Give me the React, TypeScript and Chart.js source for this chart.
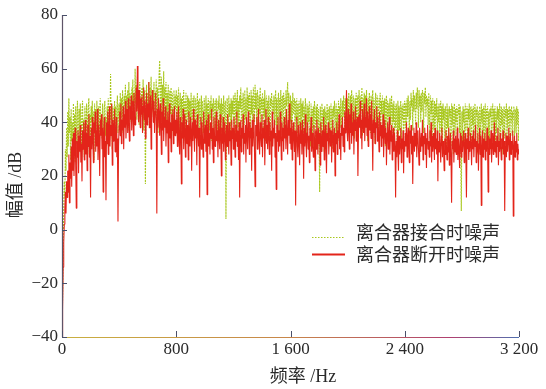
import React, { useEffect, useRef } from 'react';
import { Chart, registerables } from 'chart.js';

Chart.register(...registerables);

// Frequency grid: one sample every 4 Hz, 0 … 3200 Hz
const FREQ_STEP_HZ = 4;

// 离合器断开时噪声 (red, solid) — dB values, 400 Hz per block
const disengaged0 = [
  -40, -30, -14, -5, 2, 8, 14, 6, 18, 12, 22, 14, 28, 10, 25, 19, 31, 16, 34, 22,
  36, 20, 30, 38, 24, 8, 33, 27, 37, 21, 35, 29, 39, 25, 32, 18, 37, 30, 40, 26,
  34, 41, 28, 36, 22, 39, 31, 43, 27, 35, 12, 38, 30, 42, 33, 25, 40, 36, 44, 29,
  37, 31, 45, 26, 39, 34, 20, 41, 35, 43, 30, 38, 14, 36, 42, 27, 33, 11, 40, 32,
  44, 28, 37, 46, 31, 39, 35, 47, 24, 41, 33, 38, 45, 29, 36, 42, 27, 34, 3, 31,
];
const disengaged400 = [
  39, 44, 35, 47, 32, 41, 37, 46, 30, 43, 38, 48, 34, 42, 45, 36, 49, 40, 33, 46,
  41, 50, 37, 44, 48, 35, 51, 42, 39, 47, 53, 44, 61, 47, 40, 52, 45, 38, 49, 43,
  50, 36, 46, 53, 41, 48, 34, 44, 51, 39, 47, 42, 55, 38, 45, 50, 30, 43, 52, 46,
  40, 48, 36, 44, 51, 41, 6, 45, 38, 49, 43, 35, 47, 40, 28, 44, 37, 49, 33, 42,
  38, 46, 31, 41, 36, 44, 25, 39, 47, 34, 40, 29, 43, 37, 45, 32, 38, 46, 35, 41,
];
const disengaged800 = [
  36, 44, 31, 39, 46, 33, 28, 42, 37, 17, 40, 34, 45, 30, 38, 43, 27, 36, 41, 32,
  39, 26, 44, 35, 31, 42, 37, 22, 40, 33, 45, 36, 29, 41, 34, 39, 24, 43, 37, 31,
  38, 12, 35, 42, 30, 40, 34, 27, 44, 36, 32, 39, 29, 41, 13, 37, 43, 31, 36, 28,
  40, 34, 45, 30, 38, 25, 42, 35, 31, 39, 44, 33, 37, 27, 41, 35, 30, 43, 36, 20,
  38, 32, 42, 29, 36, 40, 26, 34, 39, 31, 43, 35, 28, 40, 33, 37, 24, 41, 34, 38,
];
const disengaged1200 = [
  30, 42, 36, 27, 39, 33, 44, 31, 37, 26, 40, 12, 35, 41, 29, 38, 34, 43, 28, 36,
  32, 39, 25, 42, 35, 30, 44, 37, 28, 40, 34, 38, 22, 41, 31, 36, 43, 29, 16, 39,
  35, 42, 30, 37, 45, 33, 28, 40, 36, 31, 43, 27, 38, 34, 41, 24, 36, 45, 32, 39,
  30, 42, 35, 28, 40, 33, 37, 22, 44, 31, 38, 34, 41, 27, 36, 15, 39, 33, 42, 29,
  37, 31, 44, 35, 26, 40, 33, 38, 29, 42, 34, 39, 30, 45, 36, 28, 41, 35, 47, 32,
];
const disengaged1600 = [
  38, 30, 41, 26, 35, 40, 33, 29, 37, 9, 36, 42, 31, 27, 39, 34, 24, 40, 32, 37,
  28, 41, 35, 19, 38, 31, 43, 33, 27, 36, 40, 30, 35, 25, 38, 33, 42, 29, 36, 31,
  27, 39, 34, 22, 37, 30, 41, 35, 28, 38, 32, 36, 24, 40, 33, 29, 37, 31, 42, 26,
  35, 39, 30, 21, 36, 33, 40, 28, 34, 38, 31, 37, 25, 35, 41, 29, 33, 38, 20, 36,
  32, 40, 28, 37, 34, 43, 30, 36, 26, 39, 35, 42, 31, 38, 29, 44, 36, 40, 52, 37,
];
const disengaged2000 = [
  33, 45, 38, 30, 43, 36, 47, 32, 40, 35, 44, 28, 41, 37, 46, 33, 39, 42, 20, 36,
  43, 38, 48, 34, 41, 30, 45, 39, 36, 47, 33, 42, 38, 49, 35, 44, 31, 40, 46, 37,
  43, 34, 48, 39, 22, 41, 36, 45, 32, 40, 38, 46, 33, 42, 37, 29, 44, 35, 40, 31,
  39, 34, 43, 27, 37, 41, 32, 38, 24, 36, 40, 30, 35, 42, 28, 37, 33, 39, 26, 34,
  38, 29, 36, 31, 12, 33, 27, 37, 30, 22, 35, 28, 32, 38, 25, 34, 30, 37, 21, 33,
];
const disengaged2400 = [
  29, 36, 31, 40, 27, 34, 38, 30, 25, 37, 32, 39, 28, 35, 17, 33, 38, 29, 36, 31,
  40, 27, 34, 37, 30, 24, 38, 33, 29, 36, 31, 41, 26, 35, 32, 38, 28, 36, 23, 34,
  39, 30, 33, 27, 37, 31, 40, 25, 35, 29, 36, 32, 26, 38, 30, 34, 28, 37, 18, 33,
  29, 36, 31, 25, 35, 38, 27, 33, 30, 22, 34, 28, 37, 31, 26, 35, 29, 38, 24, 32,
  36, 27, 10, 33, 30, 37, 25, 34, 29, 35, 28, 32, 38, 26, 34, 30, 23, 36, 31, 27,
];
const disengaged2800 = [
  35, 29, 33, 37, 25, 31, 36, 28, 12, 34, 30, 38, 26, 33, 29, 36, 32, 24, 35, 30,
  37, 27, 34, 31, 39, 25, 33, 29, 36, 22, 32, 38, 28, 35, 9, 31, 37, 27, 34, 30,
  36, 26, 33, 29, 38, 31, 14, 35, 28, 34, 30, 37, 25, 32, 36, 28, 34, 40, 29, 33,
  27, 35, 31, 38, 24, 33, 29, 36, 31, 26, 34, 30, 37, 28, 33, 7, 31, 36, 27, 35,
  29, 34, 38, 26, 32, 36, 28, 33, 30, 37, 5, 31, 35, 27, 33, 29, 36, 26, 32, 28, 30,
];

// 离合器接合时噪声 (green, dotted)
const engaged0 = [
  -40, -25, -6, 6, 18, 12, 30, 22, 38, 27, 44, 31, 49, 36, 42, 26, 45, 33, 40, 29,
  47, 35, 43, 25, 46, 38, 32, 48, 40, 28, 45, 34, 47, 37, 30, 44, 48, 33, 41, 27,
  46, 39, 31, 47, 42, 28, 45, 49, 35, 43, 30, 46, 40, 48, 33, 44, 26, 47, 38, 45,
  32, 48, 42, 36, 46, 29, 44, 49, 37, 43, 34, 47, 40, 28, 45, 48, 35, 42, 31, 46,
  39, 49, 33, 45, 37, 58, 41, 47, 30, 46, 43, 35, 48, 38, 46, 32, 45, 50, 36, 44,
];
const engaged400 = [
  47, 38, 51, 42, 49, 36, 52, 44, 40, 50, 46, 54, 39, 50, 43, 52, 37, 55, 45, 51,
  48, 40, 53, 46, 56, 38, 51, 43, 60, 47, 54, 41, 57, 45, 52, 39, 55, 48, 42, 50,
  53, 44, 56, 37, 50, 52, 17, 46, 54, 40, 51, 45, 55, 38, 53, 47, 57, 42, 49, 52,
  44, 55, 39, 51, 48, 56, 41, 53, 36, 50, 58, 63, 49, 43, 57, 40, 54, 47, 59, 42,
  53, 46, 55, 38, 51, 44, 54, 36, 50, 52, 43, 53, 40, 51, 47, 35, 52, 42, 50, 45,
];
const engaged800 = [
  52, 39, 50, 43, 53, 36, 47, 51, 41, 49, 34, 50, 44, 52, 38, 48, 33, 51, 45, 40,
  50, 42, 49, 32, 48, 37, 51, 40, 46, 49, 36, 50, 43, 35, 49, 45, 38, 51, 41, 48,
  33, 49, 44, 39, 50, 31, 48, 42, 36, 49, 45, 34, 50, 40, 47, 30, 49, 43, 37, 48,
  41, 50, 33, 47, 44, 49, 35, 46, 48, 38, 49, 42, 36, 48, 45, 50, 32, 47, 40, 49,
  35, 47, 43, 50, 37, 46, 48, 4, 41, 49, 44, 34, 50, 42, 47, 36, 49, 39, 48, 43,
];
const engaged1200 = [
  50, 37, 47, 51, 35, 49, 42, 52, 38, 48, 33, 50, 45, 53, 40, 49, 34, 51, 46, 39,
  52, 41, 49, 36, 53, 44, 50, 37, 51, 47, 38, 52, 43, 50, 35, 53, 46, 40, 54, 45,
  51, 39, 52, 47, 34, 50, 43, 53, 37, 49, 45, 51, 36, 49, 42, 52, 33, 48, 50, 40,
  48, 35, 50, 44, 31, 49, 46, 51, 38, 48, 43, 50, 36, 48, 52, 39, 49, 34, 47, 51,
  37, 49, 44, 52, 40, 48, 50, 35, 51, 45, 49, 38, 52, 46, 50, 55, 41, 51, 47, 36,
];
const engaged1600 = [
  50, 40, 48, 35, 51, 43, 47, 49, 33, 48, 41, 49, 36, 47, 31, 48, 44, 38, 49, 34,
  47, 42, 48, 32, 46, 39, 49, 43, 30, 47, 37, 46, 40, 48, 35, 31, 47, 41, 45, 33,
  46, 38, 48, 42, 30, 46, 40, 47, 34, 45, 39, 14, 46, 41, 33, 47, 43, 36, 45, 29,
  46, 38, 44, 32, 47, 41, 45, 35, 46, 31, 44, 47, 37, 45, 30, 46, 42, 48, 34, 44,
  47, 36, 45, 33, 48, 43, 46, 38, 49, 44, 35, 48, 42, 50, 45, 37, 49, 43, 47, 39,
];
const engaged2000 = [
  49, 41, 51, 46, 36, 50, 43, 52, 47, 38, 50, 45, 34, 49, 42, 51, 37, 48, 50, 40,
  52, 47, 38, 50, 44, 53, 35, 49, 41, 51, 46, 50, 39, 52, 47, 33, 49, 43, 51, 45,
  36, 50, 42, 48, 52, 38, 49, 46, 32, 51, 47, 40, 50, 44, 35, 49, 45, 51, 37, 48,
  43, 50, 34, 48, 41, 49, 31, 47, 50, 38, 48, 42, 47, 33, 49, 39, 46, 50, 36, 47,
  40, 48, 31, 46, 38, 47, 43, 29, 48, 35, 46, 37, 45, 48, 30, 46, 41, 47, 34, 45,
];
const engaged2400 = [
  48, 38, 47, 33, 49, 42, 50, 45, 36, 48, 41, 51, 46, 49, 37, 52, 44, 50, 47, 39,
  51, 45, 53, 48, 38, 52, 46, 50, 40, 51, 44, 52, 49, 36, 51, 47, 53, 42, 50, 46,
  49, 39, 51, 45, 34, 50, 43, 48, 31, 49, 44, 37, 48, 32, 47, 42, 49, 35, 46, 40,
  47, 33, 45, 48, 36, 46, 30, 47, 41, 45, 34, 46, 43, 29, 47, 38, 45, 33, 46, 42,
  45, 31, 47, 39, 46, 28, 44, 47, 35, 45, 40, 46, 32, 45, 43, 47, 36, 46, 30, 7,
];
const engaged2800 = [
  44, 33, 46, 40, 45, 29, 47, 37, 44, 46, 32, 45, 41, 47, 35, 44, 46, 30, 45, 39,
  46, 34, 44, 47, 31, 45, 42, 46, 28, 44, 38, 46, 43, 33, 47, 40, 45, 30, 46, 36,
  44, 47, 32, 45, 41, 46, 35, 44, 29, 45, 42, 46, 33, 44, 47, 37, 45, 40, 46, 31,
  44, 36, 46, 41, 45, 30, 47, 43, 35, 46, 39, 45, 28, 44, 46, 34, 45, 42, 47, 32,
  45, 38, 44, 46, 31, 45, 40, 46, 35, 44, 41, 46, 30, 45, 44, 36, 46, 39, 45, 33, 44,
];

const xTicks = [0, 800, 1600, 2400, 3200];
const xTickLabels = ['0', '800', '1 600', '2 400', '3 200'];
const yTicks = [-40, -20, 0, 20, 40, 60, 80];
const yTickLabels = ['\u221240', '\u221220', '0', '20', '40', '60', '80'];

const seriesNames = ['离合器接合时噪声', '离合器断开时噪声'];
const xTitle = '频率 /Hz';
const yTitle = '幅值 /dB';

const GREEN = '#a9c81f';
const RED = '#e3241a';
const SERIF = '"Liberation Serif", "Noto Sans CJK SC", serif';

function toPoints(values: number[]) {
  return values.map((v, i) => ({ x: i * FREQ_STEP_HZ, y: v }));
}

const decorPlugin = {
  id: 'decor',
  afterDraw(chart: any) {
    const { ctx, chartArea: a, scales } = chart;
    const x = scales.x;
    const y = scales.y;
    ctx.save();
    // y axis line
    ctx.lineWidth = 1.2;
    ctx.strokeStyle = '#5e5468';
    ctx.beginPath();
    ctx.moveTo(a.left + 0.5, a.top);
    ctx.lineTo(a.left + 0.5, a.bottom);
    ctx.stroke();
    // x axis line
    const g = ctx.createLinearGradient(a.left, 0, a.right, 0);
    g.addColorStop(0, '#c9b040');
    g.addColorStop(0.5, '#c8864a');
    g.addColorStop(0.85, '#b04070');
    g.addColorStop(1, '#4f70b0');
    ctx.strokeStyle = g;
    ctx.beginPath();
    ctx.moveTo(a.left, a.bottom + 0.5);
    ctx.lineTo(a.right, a.bottom + 0.5);
    ctx.stroke();
    // inward ticks
    ctx.lineWidth = 1;
    ctx.strokeStyle = '#4a4f6a';
    yTicks.forEach((v) => {
      const py = Math.round(y.getPixelForValue(v)) + 0.5;
      ctx.beginPath();
      ctx.moveTo(a.left, py);
      ctx.lineTo(a.left + 5, py);
      ctx.stroke();
    });
    xTicks.forEach((v) => {
      const px = Math.round(x.getPixelForValue(v)) + 0.5;
      ctx.beginPath();
      ctx.moveTo(px, a.bottom);
      ctx.lineTo(px, a.bottom - 6);
      ctx.stroke();
    });
    // axis titles
    ctx.fillStyle = '#2a2a2a';
    ctx.font = '18px ' + SERIF;
    ctx.textAlign = 'center';
    ctx.textBaseline = 'middle';
    ctx.fillText(xTitle, 303, 377);
    ctx.save();
    ctx.translate(16, 185);
    ctx.rotate(-Math.PI / 2);
    ctx.fillText(yTitle, 0, 0);
    ctx.restore();
    // legend
    ctx.textAlign = 'left';
    ctx.lineWidth = 1.2;
    ctx.strokeStyle = GREEN;
    ctx.setLineDash([1.5, 1.5]);
    ctx.beginPath();
    ctx.moveTo(312, 237.5);
    ctx.lineTo(345, 237.5);
    ctx.stroke();
    ctx.setLineDash([]);
    ctx.lineWidth = 2;
    ctx.strokeStyle = RED;
    ctx.beginPath();
    ctx.moveTo(312, 254.5);
    ctx.lineTo(345, 254.5);
    ctx.stroke();
    ctx.fillStyle = '#2a2a2a';
    ctx.fillText(seriesNames[0], 356, 234);
    ctx.fillText(seriesNames[1], 356, 256);
    ctx.restore();
  },
};

export default function App() {
  const canvasRef = useRef<HTMLCanvasElement | null>(null);

  useEffect(() => {
    if (!canvasRef.current) return;
    const engaged = [
      ...engaged0, ...engaged400, ...engaged800, ...engaged1200,
      ...engaged1600, ...engaged2000, ...engaged2400, ...engaged2800,
    ];
    const disengaged = [
      ...disengaged0, ...disengaged400, ...disengaged800, ...disengaged1200,
      ...disengaged1600, ...disengaged2000, ...disengaged2400, ...disengaged2800,
    ];
    const chart = new Chart(canvasRef.current, {
      type: 'line',
      data: {
        datasets: [
          {
            label: seriesNames[0],
            data: toPoints(engaged),
            borderColor: GREEN,
            borderWidth: 1.1,
            borderDash: [2, 1],
            borderJoinStyle: 'bevel',
            pointRadius: 0,
            tension: 0,
            order: 2,
          },
          {
            label: seriesNames[1],
            data: toPoints(disengaged),
            borderColor: RED,
            borderWidth: 1.1,
            borderJoinStyle: 'bevel',
            pointRadius: 0,
            tension: 0,
            order: 1,
          },
        ],
      },
      options: {
        responsive: false,
        animation: false,
        events: [],
        layout: { padding: { top: 15, right: 27, left: 0, bottom: 0 } },
        plugins: { legend: { display: false }, tooltip: { enabled: false } },
        scales: {
          x: {
            type: 'linear',
            min: 0,
            max: 3200,
            afterFit: (s: any) => {
              s.height = 52;
            },
            afterBuildTicks: (s: any) => {
              s.ticks = xTicks.map((v) => ({ value: v }));
            },
            ticks: {
              autoSkip: false,
              maxRotation: 0,
              padding: 2,
              color: '#2a2a2a',
              font: { family: SERIF, size: 17 },
              callback: (v: any) => xTickLabels[xTicks.indexOf(Number(v))],
            },
            grid: { display: false, drawTicks: false },
            border: { display: false },
          },
          y: {
            type: 'linear',
            min: -40,
            max: 80,
            afterFit: (s: any) => {
              s.width = 62;
            },
            afterBuildTicks: (s: any) => {
              s.ticks = yTicks.map((v) => ({ value: v }));
            },
            ticks: {
              autoSkip: false,
              padding: 4,
              color: '#2a2a2a',
              font: { family: SERIF, size: 17 },
              callback: (v: any) => yTickLabels[yTicks.indexOf(Number(v))],
            },
            grid: { display: false, drawTicks: false },
            border: { display: false },
          },
        },
      },
      plugins: [decorPlugin],
    });
    return () => chart.destroy();
  }, []);

  return (
    <div style={{ position: 'absolute', left: 0, top: 0, width: 546, height: 389, background: '#fff' }}>
      <canvas ref={canvasRef} width={546} height={389} style={{ display: 'block' }} />
    </div>
  );
}
